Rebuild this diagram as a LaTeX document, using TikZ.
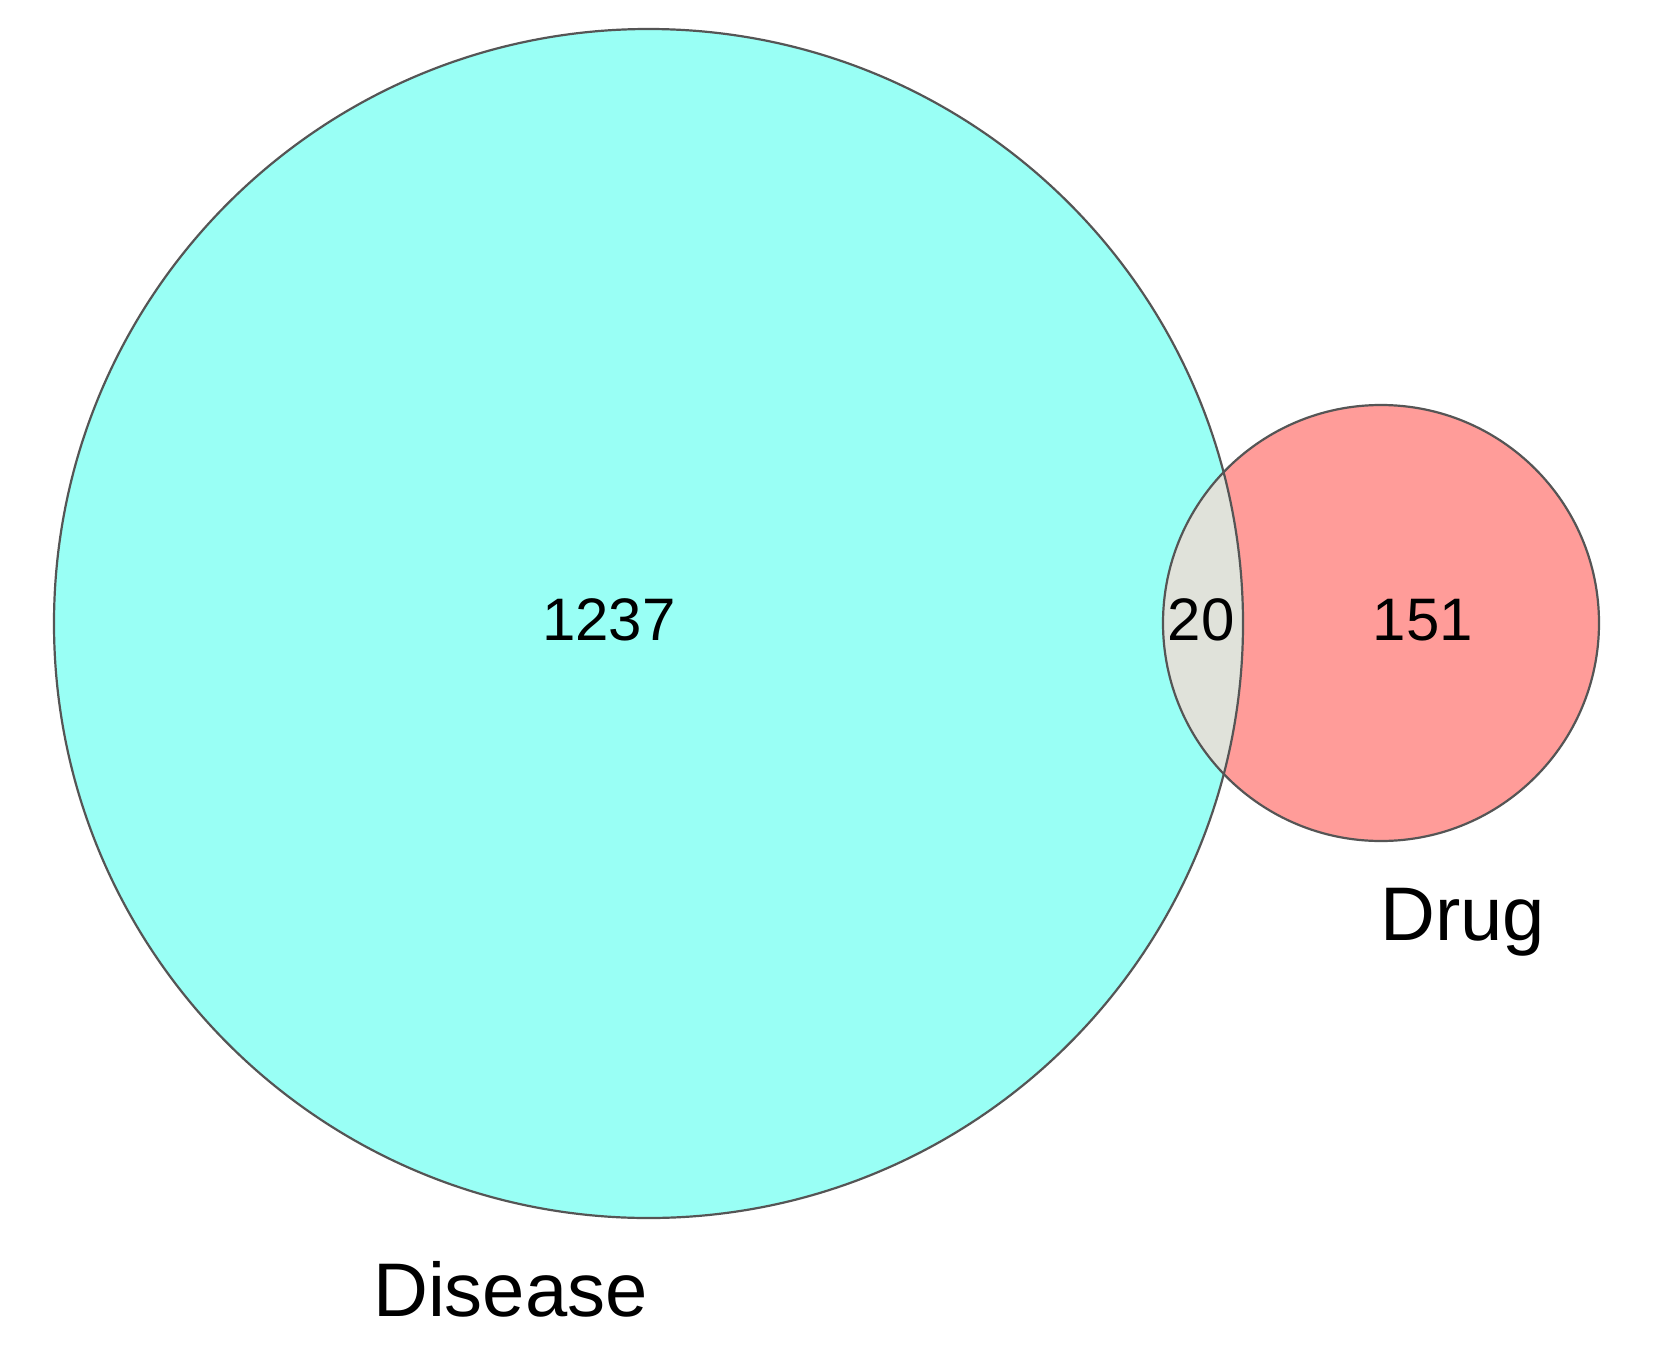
\documentclass[tikz,border=0pt]{standalone}
\usepackage{fontspec}
\setmainfont{Liberation Sans}
\definecolor{cyanfill}{HTML}{99FFF5}
\definecolor{redfill}{HTML}{FF9C99}
\definecolor{greyfill}{HTML}{E0E2DA}
\definecolor{edge}{HTML}{555555}
\tikzset{
  setedge/.style={draw=edge, line width=2.2pt},
  numlabel/.style={font=\fontsize{60}{72}\selectfont, anchor=base, inner sep=0pt},
  setlabel/.style={font=\fontsize{76}{90}\selectfont, anchor=base west, inner sep=0pt}
}
\begin{document}
\begin{tikzpicture}[x=1pt,y=-1pt]
\useasboundingbox (0,0) rectangle (1654,1354);
\fill[white] (0,0) rectangle (1654,1354);
\coordinate (cA) at (648.5,623.5);
\coordinate (cB) at (1381,623);
\fill[cyanfill] (cA) circle[radius=594.5];
\fill[redfill] (cB) circle[radius=218];
\begin{scope}
  \clip (cA) circle[radius=594.5];
  \fill[greyfill] (cB) circle[radius=218];
\end{scope}
\draw[setedge] (cA) circle[radius=594.5];
\draw[setedge] (cB) circle[radius=218];
\node[numlabel] (n1237) at (609,640) {1237};
\node[numlabel] (n20) at (1201,640) {20};
\node[numlabel] (n151) at (1423,640) {151};
\node[setlabel] (disease) at (373,1316) {Disease};
\node[setlabel] (drug) at (1380,940) {Drug};
\end{tikzpicture}
\end{document}
